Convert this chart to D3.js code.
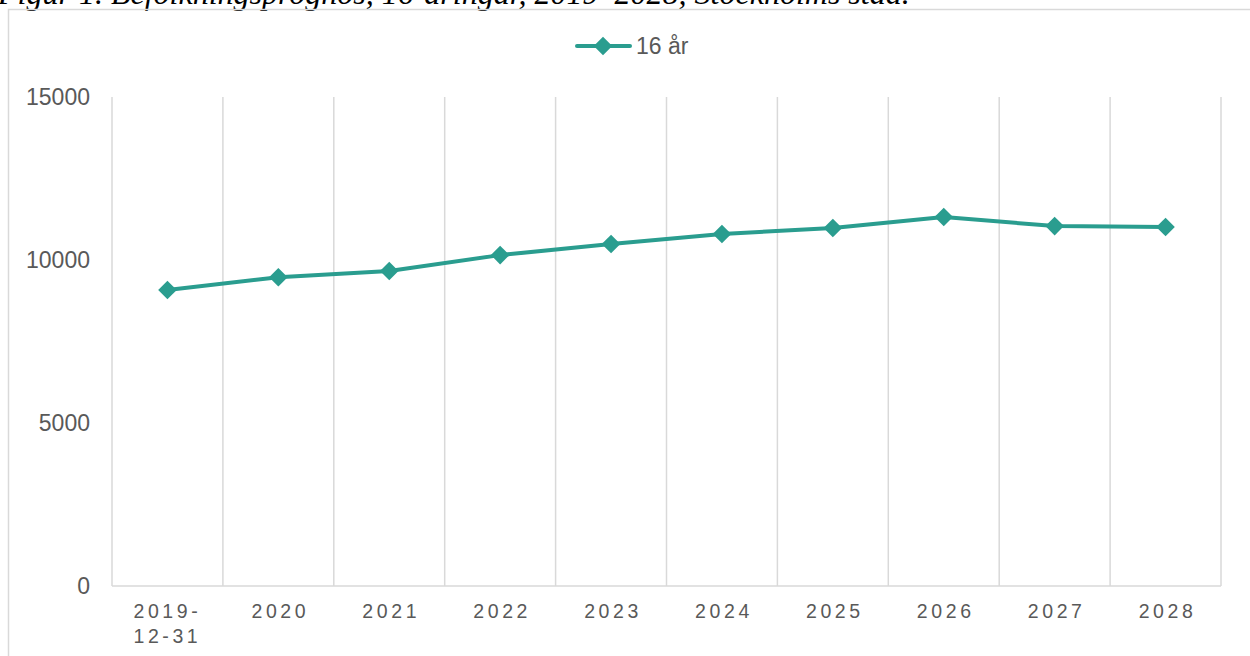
<!DOCTYPE html>
<html>
<head>
<meta charset="utf-8">
<script src="https://cdn.jsdelivr.net/npm/d3@7"></script>
<style>
  body { margin: 0; background: #fff; }
  svg text { font-family: "Liberation Sans", Arial, sans-serif; fill: #595959; }
</style>
</head>
<body>
<div id="chart"></div>
<script>
// befolkningsprognos 16-åringar
var categories = ["2019-12-31", "2020", "2021", "2022", "2023", "2024", "2025", "2026", "2027", "2028"];
var values = [9080, 9470, 9660, 10150, 10490, 10800, 10980, 11320, 11040, 11010];
var yTicks = [0, 5000, 10000, 15000];
var seriesName = "16 år";

var w = 1250, h = 656;
var color = "#2a9d8f";
var grid = "#d9d9d9";

var svg = d3.select("#chart").append("svg")
    .attr("width", w)
    .attr("height", h);

// title, cut off at top like in the source
svg.append("text")
    .attr("x", -2)
    .attr("y", 4)
    .style("font-family", "'Liberation Serif', 'Times New Roman', serif")
    .style("font-style", "italic")
    .style("font-size", "32px")
    .style("fill", "#000")
    .text("Figur 1. Befolkningsprognos, 16-åringar, 2019–2028, Stockholms stad.");

// chart frame
svg.append("rect")
    .attr("x", 8.5).attr("y", 9.5)
    .attr("width", 1260).attr("height", 700)
    .attr("fill", "none")
    .attr("stroke", grid)
    .attr("stroke-width", 1.5);

var x = d3.scaleBand().domain(categories).range([112, 1221]);
var y = d3.scaleLinear().domain([0, 15000]).range([586, 97]);

// vertical gridlines at category boundaries
var bounds = categories.map(function(c) { return x(c); }).concat([x.range()[1]]);
svg.selectAll(".vgrid")
    .data(bounds)
    .enter().append("line")
    .attr("class", "vgrid")
    .attr("x1", function(d) { return d; })
    .attr("x2", function(d) { return d; })
    .attr("y1", y(15000))
    .attr("y2", y(0))
    .style("stroke", grid)
    .style("stroke-width", 1.5);

// x axis line
svg.append("line")
    .attr("x1", x.range()[0]).attr("x2", x.range()[1])
    .attr("y1", y(0)).attr("y2", y(0))
    .style("stroke", grid)
    .style("stroke-width", 1.5);

// y labels
svg.selectAll(".ylab")
    .data(yTicks)
    .enter().append("text")
    .attr("class", "ylab")
    .attr("x", 90)
    .attr("y", function(d) { return y(d) + 8; })
    .attr("text-anchor", "end")
    .style("font-size", "23px")
    .text(function(d) { return d; });

// x labels (letter spaced, first one wraps)
var xl = svg.selectAll(".xlab")
    .data(categories)
    .enter().append("text")
    .attr("class", "xlab")
    .attr("y", 618)
    .style("font-size", "19.5px")
    .style("letter-spacing", "3.6px");

xl.each(function(d) {
    var t = d3.select(this);
    var cx = x(d) + x.bandwidth() / 2;
    if (d.indexOf("-") > 0) {
        t.attr("text-anchor", "start");
        t.append("tspan").attr("x", cx - 34).text("2019-");
        t.append("tspan").attr("x", cx - 34).attr("dy", 25).text("12-31");
    } else {
        t.attr("text-anchor", "middle").attr("x", cx + 2).text(d);
    }
});

// the line
var line = d3.line()
    .x(function(d, i) { return x(categories[i]) + x.bandwidth() / 2; })
    .y(function(d) { return y(d); });

svg.append("path")
    .datum(values)
    .attr("d", line)
    .attr("fill", "none")
    .attr("stroke", color)
    .attr("stroke-width", 4)
    .attr("stroke-linejoin", "round");

var diamond = d3.symbol().type(d3.symbolDiamond2).size(220);

svg.selectAll(".pt")
    .data(values)
    .enter().append("path")
    .attr("class", "pt")
    .attr("transform", function(d, i) {
        return "translate(" + (x(categories[i]) + x.bandwidth() / 2) + "," + y(d) + ")";
    })
    .attr("d", diamond)
    .attr("fill", color);

// legend
svg.append("line")
    .attr("x1", 577).attr("x2", 630)
    .attr("y1", 46).attr("y2", 46)
    .attr("stroke", color)
    .attr("stroke-width", 4)
    .attr("stroke-linecap", "round");
svg.append("path")
    .attr("transform", "translate(603,46)")
    .attr("d", diamond)
    .attr("fill", color);
svg.append("text")
    .attr("x", 636)
    .attr("y", 54)
    .style("font-size", "23px")
    .text(seriesName);
</script>
</body>
</html>
